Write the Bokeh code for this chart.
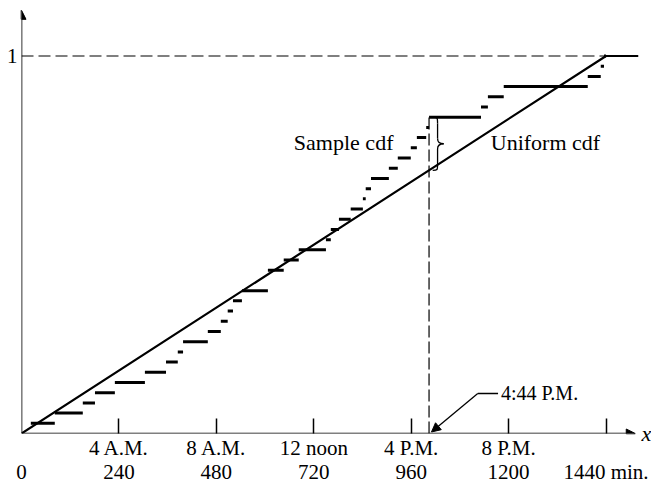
from bokeh.plotting import figure
from bokeh.models import Range1d, FixedTicker, Label, Arrow, NormalHead, LinearAxis
from bokeh.embed import file_html
from bokeh.resources import INLINE

# ---------------- data ----------------
sample_minutes = [23, 82, 151, 181, 230, 304, 356, 385, 398, 459, 491, 508, 521,
                  543, 607, 607, 646, 683, 750, 762, 782, 811, 841, 848, 861, 905,
                  927, 959, 974, 997, 1004, 1132, 1149, 1188, 1395, 1427, 1435]
day_minutes = 1440
tick_minutes = [0, 240, 480, 720, 960, 1200, 1440]
tick_clock = ["", "4 A.M.", "8 A.M.", "12 noon", "4 P.M.", "8 P.M.", ""]
tick_min_labels = ["0", "240", "480", "720", "960", "1200", "1440 min."]
max_dev_minute = 1004          # 4:44 P.M.
max_dev_label = "4:44 P.M."

n = len(sample_minutes)
FONT = "Liberation Serif"
X_END = 1520
Y_END = 1.147

p = figure(frame_width=617, frame_height=433, output_backend="svg",
           toolbar_location=None, x_range=Range1d(0, X_END),
           y_range=Range1d(0, Y_END), min_border_left=21, min_border_right=0,
           min_border_top=0, min_border_bottom=0, background_fill_color="white",
           border_fill_color="white", outline_line_color=None)
p.grid.visible = False

# --- axes (labels only; axis lines drawn as arrows) ---
xa = p.xaxis[0]
xa.ticker = FixedTicker(ticks=tick_minutes[1:])
xa.major_label_overrides = dict(zip(tick_minutes, tick_clock))
xa.major_tick_in = 15
xa.major_tick_out = 0
xa.minor_tick_in = 0
xa.minor_tick_out = 0
xa.major_tick_line_color = "black"
xa.major_tick_line_width = 1.5
xa.minor_tick_line_color = None
xa.axis_line_color = None
xa.major_label_standoff = 2
xa.major_label_text_font = FONT
xa.major_label_text_font_size = "21px"
xa.major_label_text_color = "black"

xa2 = LinearAxis(ticker=FixedTicker(ticks=tick_minutes))
xa2.major_label_overrides = dict(zip(tick_minutes, tick_min_labels))
xa2.major_tick_in = 0
xa2.major_tick_out = 0
xa2.minor_tick_in = 0
xa2.minor_tick_out = 0
xa2.major_tick_line_color = None
xa2.minor_tick_line_color = None
xa2.axis_line_color = None
xa2.major_label_standoff = -3
xa2.major_label_text_font = FONT
xa2.major_label_text_font_size = "21px"
xa2.major_label_text_color = "black"
p.add_layout(xa2, "below")

ya = p.yaxis[0]
ya.ticker = FixedTicker(ticks=[1])
ya.major_label_overrides = {1: "1"}
ya.major_tick_in = 0
ya.major_tick_out = 0
ya.minor_tick_in = 0
ya.minor_tick_out = 0
ya.major_tick_line_color = None
ya.minor_tick_line_color = None
ya.axis_line_color = None
ya.major_label_standoff = 4
ya.major_label_text_font = FONT
ya.major_label_text_font_size = "21px"
ya.major_label_text_color = "black"

# right-hand axis carries the "x" variable name at the end of the x-axis arrow
yr = LinearAxis(ticker=FixedTicker(ticks=[0]))
yr.major_label_overrides = {0: "x"}
yr.major_tick_in = 0
yr.major_tick_out = 0
yr.minor_tick_in = 0
yr.minor_tick_out = 0
yr.major_tick_line_color = None
yr.minor_tick_line_color = None
yr.axis_line_color = None
yr.major_label_standoff = 3
yr.major_label_text_font = FONT
yr.major_label_text_font_style = "italic"
yr.major_label_text_font_size = "22px"
yr.major_label_text_color = "black"
p.add_layout(yr, "right")

# axis arrows
p.add_layout(Arrow(x_start=0, y_start=0, x_end=1512, y_end=0,
                   line_color="black", line_width=1.6,
                   end=NormalHead(size=9, fill_color="black", line_color="black")))
p.add_layout(Arrow(x_start=0, y_start=0, x_end=0, y_end=1.121,
                   line_color="black", line_width=1.6,
                   end=NormalHead(size=9, fill_color="black", line_color="black")))

# dashed reference lines
p.line([0, day_minutes], [1, 1], line_color="black", line_width=1.2, line_dash="12 5")
dev_level = sum(1 for s in sample_minutes if s <= max_dev_minute) / n
p.line([max_dev_minute, max_dev_minute], [0, dev_level], line_color="black",
       line_width=1.2, line_dash="12 4")

# uniform cdf
p.line([0, day_minutes, X_END], [0, 1, 1], line_color="black", line_width=2.2)

# sample cdf: horizontal steps
xs0 = sample_minutes
xs1 = sample_minutes[1:] + [day_minutes]
levels = [(i + 1) / n for i in range(n)]
p.segment(x0=xs0, y0=levels, x1=xs1, y1=levels, line_color="black", line_width=3)

# brace marking the maximum deviation
yh = dev_level
yl = max_dev_minute / day_minutes
ym = (yh + yl) / 2
d = yh - yl
xl = max_dev_minute + 9
xm = xl + 12
xt = xl + 27
p.bezier(x0=[xl, xm, xt, xm], y0=[yh, ym + 0.1 * d, ym, yl + 0.12 * d],
         x1=[xm, xt, xm, xl], y1=[yh - 0.12 * d, ym, ym - 0.1 * d, yl],
         cx0=[xm, xm, xt - 6, xm], cy0=[yh, ym + 0.01 * d, ym, yl],
         cx1=[xm, xt - 6, xm, xm], cy1=[yh, ym, ym - 0.01 * d, yl],
         line_color="black", line_width=1.3)
p.segment(x0=[xm, xm], y0=[yh - 0.12 * d, ym - 0.1 * d], x1=[xm, xm],
          y1=[ym + 0.1 * d, yl + 0.12 * d], line_color="black", line_width=1.3)

# captions
p.add_layout(Label(x=671, y=0.771, text="Sample cdf", text_font=FONT,
                   text_font_size="22px", text_baseline="middle", text_color="black"))
p.add_layout(Label(x=1156, y=0.771, text="Uniform cdf", text_font=FONT,
                   text_font_size="22px", text_baseline="middle", text_color="black"))

# 4:44 P.M. pointer
p.line([max_dev_minute + 120, max_dev_minute + 170], [0.106, 0.106],
       line_color="black", line_width=1.3)
p.add_layout(Arrow(x_start=max_dev_minute + 120, y_start=0.106,
                   x_end=max_dev_minute + 6, y_end=0.004, line_color="black",
                   line_width=1.3,
                   end=NormalHead(size=9, fill_color="black", line_color="black")))
p.add_layout(Label(x=max_dev_minute + 177, y=0.106, text=max_dev_label, text_font=FONT,
                   text_font_size="20px", text_baseline="middle", text_color="black"))

open("out.html", "w").write(file_html(p, INLINE))
